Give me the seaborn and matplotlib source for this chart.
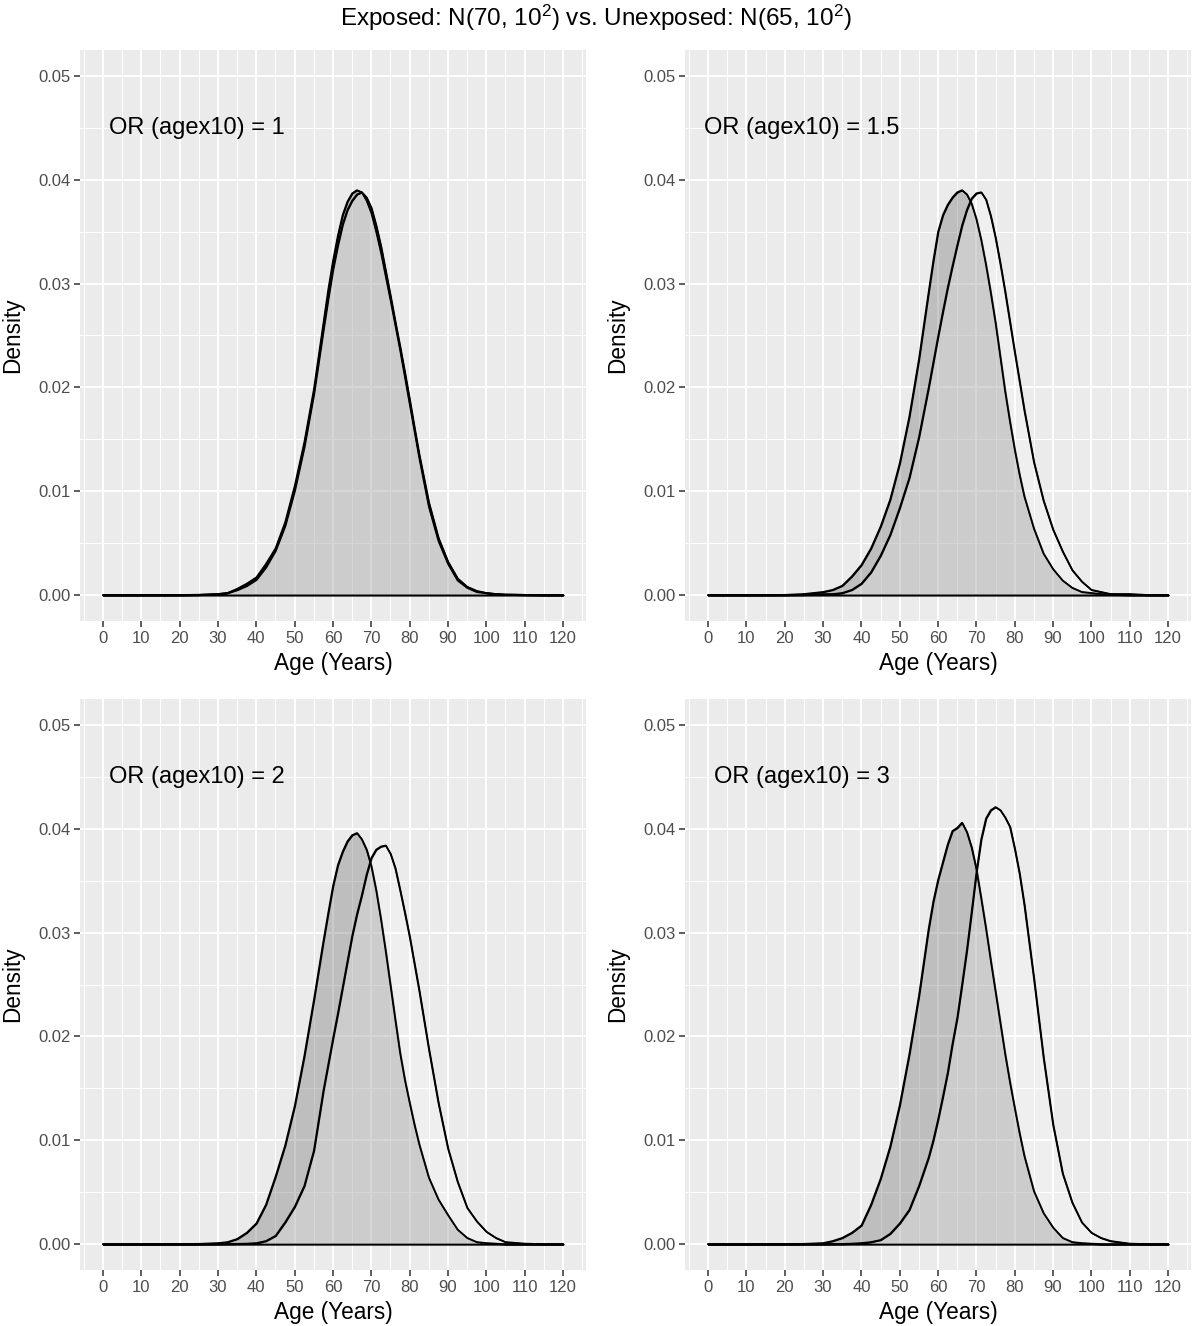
import matplotlib
matplotlib.use('Agg')
import matplotlib.pyplot as plt
from matplotlib.ticker import MultipleLocator, FormatStrFormatter
import pandas as pd
import seaborn as sns

# edades (eje x) donde se leyeron las densidades
ages = [0, 10, 20, 25, 30, 32.5, 35, 37.5, 40, 42.5, 45, 47.5, 50, 52.5, 55, 57.5,
        58.75, 60, 61.25, 62.5, 63.75, 65, 66.25, 67.5, 68.75, 70, 71.25, 72.5, 73.75,
        75, 76.25, 77.5, 78.75, 80, 81.25, 82.5,
        85, 87.5, 90, 92.5, 95, 97.5, 100, 102.5, 105, 110, 115, 120]

or_labels = ['1', '1.5', '2', '3']

# curva oscura (media menor) y curva clara (media mayor) de cada panel
dens_or1_dark = [0, 0, 0.00001, 0.00003, 0.0001, 0.0002, 0.0006, 0.0011, 0.0017, 0.0030,
                 0.0045, 0.0070, 0.0105, 0.0147, 0.0198, 0.0262,
                 0.0294, 0.0322, 0.0346, 0.0366, 0.0379, 0.0387, 0.0390, 0.0388, 0.0380,
                 0.0368, 0.0350, 0.0330, 0.0307, 0.0284, 0.0260, 0.0236, 0.0210, 0.0184,
                 0.0158, 0.0132,
                 0.0085, 0.0052, 0.0030, 0.0014, 0.0007, 0.0003, 0.0002, 0.0001, 0.00005,
                 0.00002, 0, 0]
dens_or1_light = [0, 0, 0, 0.00002, 0.0001, 0.0002, 0.0005, 0.0009, 0.0015, 0.0027,
                  0.0043, 0.0067, 0.0101, 0.0143, 0.0194, 0.0256,
                  0.0286, 0.0314, 0.0337, 0.0357, 0.0371, 0.0380, 0.0386, 0.0388, 0.0383,
                  0.0373, 0.0356, 0.0336, 0.0312, 0.0288, 0.0263, 0.0239, 0.0214, 0.0188,
                  0.0161, 0.0135,
                  0.0089, 0.0055, 0.0032, 0.0016, 0.0008, 0.0004, 0.0002, 0.0001, 0.00005,
                  0.00002, 0, 0]

dens_or15_dark = [0, 0, 0.00002, 0.0001, 0.0003, 0.0005, 0.0009, 0.0018, 0.0029, 0.0045,
                  0.0066, 0.0092, 0.0127, 0.0172, 0.0227, 0.0291,
                  0.0322, 0.0350, 0.0366, 0.0376, 0.0383, 0.0388, 0.0390, 0.0386, 0.0377,
                  0.0362, 0.0342, 0.0318, 0.0291, 0.0262, 0.0229, 0.0196, 0.0167, 0.0140,
                  0.0116, 0.0095,
                  0.0064, 0.0040, 0.0025, 0.0014, 0.0007, 0.0003, 0.0002, 0.0001, 0.00005,
                  0, 0, 0]
dens_or15_light = [0, 0, 0, 0.00002, 0.0001, 0.0001, 0.0002, 0.0005, 0.0011, 0.0022,
                   0.0038, 0.0058, 0.0084, 0.0113, 0.0152, 0.0199,
                   0.0224, 0.0249, 0.0273, 0.0296, 0.0317, 0.0337, 0.0356, 0.0371, 0.0382,
                   0.0387, 0.0388, 0.0381, 0.0365, 0.0344, 0.0319, 0.0292, 0.0263, 0.0234,
                   0.0206, 0.0178,
                   0.0128, 0.0091, 0.0063, 0.0042, 0.0024, 0.0013, 0.0005, 0.0003, 0.0001,
                   0.0001, 0, 0]

dens_or2_dark = [0, 0, 0.00001, 0.00003, 0.0001, 0.0002, 0.0005, 0.0011, 0.0020, 0.0038,
                 0.0065, 0.0095, 0.0133, 0.0181, 0.0235, 0.0292,
                 0.0319, 0.0345, 0.0365, 0.0378, 0.0388, 0.0394, 0.0396, 0.0390, 0.0380,
                 0.0364, 0.0341, 0.0313, 0.0282, 0.0249, 0.0216, 0.0184, 0.0158, 0.0136,
                 0.0115, 0.0096,
                 0.0064, 0.0043, 0.0028, 0.0014, 0.0006, 0.0002, 0.0001, 0.00005, 0,
                 0, 0, 0]
dens_or2_light = [0, 0, 0, 0, 0.00001, 0.00002, 0.00003, 0.00005, 0.0001, 0.0003,
                  0.0008, 0.0021, 0.0036, 0.0056, 0.0090, 0.0148,
                  0.0173, 0.0198, 0.0222, 0.0247, 0.0272, 0.0297, 0.0318, 0.0336, 0.0356,
                  0.0372, 0.0380, 0.0383, 0.0384, 0.0376, 0.0362, 0.0341, 0.0319, 0.0296,
                  0.0270, 0.0244,
                  0.0188, 0.0136, 0.0092, 0.0060, 0.0035, 0.0022, 0.0012, 0.0006, 0.0002,
                  0.00005, 0, 0]

dens_or3_dark = [0, 0, 0.00001, 0.00003, 0.0001, 0.0003, 0.0006, 0.0011, 0.0018, 0.0038,
                 0.0063, 0.0094, 0.0134, 0.0183, 0.0239, 0.0303,
                 0.0330, 0.0351, 0.0368, 0.0385, 0.0398, 0.0401, 0.0406, 0.0397, 0.0382,
                 0.0361, 0.0333, 0.0304, 0.0273, 0.0243, 0.0213, 0.0183, 0.0156, 0.0131,
                 0.0107, 0.0085,
                 0.0051, 0.0030, 0.0016, 0.0006, 0.0002, 0.0001, 0.00005, 0, 0,
                 0, 0, 0]
dens_or3_light = [0, 0, 0, 0, 0, 0.00001, 0.00002, 0.00005, 0.0001, 0.0002,
                  0.0004, 0.0010, 0.0020, 0.0033, 0.0056, 0.0083,
                  0.0100, 0.0120, 0.0142, 0.0165, 0.0193, 0.0218, 0.0250, 0.0283, 0.0320,
                  0.0358, 0.0390, 0.0410, 0.0418, 0.0421, 0.0418, 0.0411, 0.0402, 0.0381,
                  0.0357, 0.0327,
                  0.0256, 0.0180, 0.0115, 0.0068, 0.0040, 0.0021, 0.0011, 0.0006, 0.0003,
                  0.00005, 0, 0]

paneles = [
    (or_labels[0], dens_or1_dark, dens_or1_light),
    (or_labels[1], dens_or15_dark, dens_or15_light),
    (or_labels[2], dens_or2_dark, dens_or2_light),
    (or_labels[3], dens_or3_dark, dens_or3_light),
]

sns.set_theme(style='darkgrid')
plt.rcParams['font.family'] = ['Liberation Sans', 'DejaVu Sans']
plt.rcParams['mathtext.fontset'] = 'custom'
plt.rcParams['mathtext.rm'] = 'Liberation Sans'
plt.rcParams['mathtext.it'] = 'Liberation Sans:italic'

fig = plt.figure(figsize=(11.92, 13.26), dpi=100)
fig.patch.set_facecolor('white')

# posiciones de los 4 paneles (izq, abajo, ancho, alto) en fraccion de figura
posiciones = [
    [0.0671, 0.5317, 0.4245, 0.4306],
    [0.5747, 0.5317, 0.4245, 0.4306],
    [0.0671, 0.0422, 0.4245, 0.4306],
    [0.5747, 0.0422, 0.4245, 0.4306],
]

for pos, (etiqueta, oscura, clara) in zip(posiciones, paneles):
    ax = fig.add_axes(pos)
    ax.set_facecolor('#EBEBEB')
    for s in ax.spines.values():
        s.set_visible(False)

    # rellenos translucidos con contorno negro (incluye la linea base)
    ax.fill_between(ages, oscura, facecolor=(0.39, 0.39, 0.39, 0.33),
                    edgecolor='black', linewidth=1.2, zorder=2)
    ax.fill_between(ages, clara, facecolor=(1, 1, 1, 0.22),
                    edgecolor='black', linewidth=1.2, zorder=3)

    df = pd.DataFrame({
        'age': ages + ages,
        'density': oscura + clara,
        'grupo': ['oscura'] * len(ages) + ['clara'] * len(ages),
    })
    sns.lineplot(data=df, x='age', y='density', hue='grupo',
                 palette=['black', 'black'], legend=False, ax=ax,
                 linewidth=1.2, estimator=None, zorder=4)

    ax.set_xlim(-6, 126)
    ax.set_ylim(-0.0025, 0.0525)
    ax.xaxis.set_major_locator(MultipleLocator(10))
    ax.xaxis.set_minor_locator(MultipleLocator(5))
    ax.yaxis.set_major_locator(MultipleLocator(0.01))
    ax.yaxis.set_minor_locator(MultipleLocator(0.005))
    ax.yaxis.set_major_formatter(FormatStrFormatter('%.2f'))

    ax.grid(which='major', color='white', linewidth=1.4)
    ax.grid(which='minor', color='white', linewidth=0.7)
    ax.set_axisbelow(True)
    ax.tick_params(which='major', length=4, width=1.1, color='#333333',
                   labelcolor='#4D4D4D', labelsize=12, pad=3,
                   bottom=True, left=True)
    ax.tick_params(which='minor', length=0)

    ax.set_xlabel('Age (Years)', fontsize=16.3, color='black')
    ax.set_ylabel('Density', fontsize=16.3, color='black')
    ax.xaxis.set_label_coords(0.5, -0.074)
    ax.xaxis.label.set_verticalalignment('center')
    ax.yaxis.set_label_coords(-0.134, 0.5)
    ax.yaxis.label.set_verticalalignment('center')

    ax.text(24.5, 0.045, 'OR (agex10) = ' + etiqueta, ha='center', va='center',
            fontsize=17, color='black')

fig.text(0.5, 1 - 18 / 1326, r'Exposed: N(70, 10$^2$) vs. Unexposed: N(65, 10$^2$)',
         ha='center', va='center', fontsize=17.5, color='black')

plt.savefig('out.png', dpi=100)
plt.close()
